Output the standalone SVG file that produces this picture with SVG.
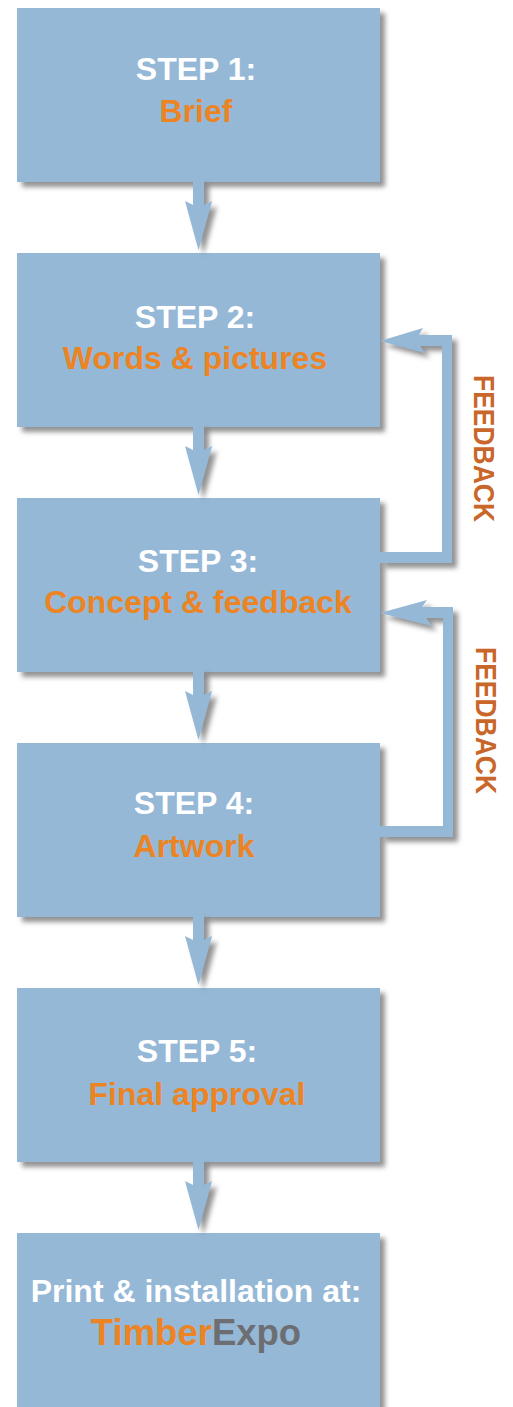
<svg xmlns="http://www.w3.org/2000/svg" xmlns:xlink="http://www.w3.org/1999/xlink" width="513" height="1407" viewBox="0 0 513 1407">
<style>
.box{fill:#95b8d7;filter:url(#sh)}
.conn{fill:#95b8d7;filter:url(#sh)}
.t{font-family:"Liberation Sans",Arial,Helvetica,sans-serif;font-weight:bold;text-anchor:middle;font-size:32px}
.w{fill:#ffffff}
.o{fill:#ec8424}
.g{fill:#6d6e71}
.fb{font-family:"Liberation Sans",Arial,Helvetica,sans-serif;font-weight:bold;text-anchor:middle;font-size:30px;fill:#c9672a}
</style>
<defs>
<filter id="sh" x="-20%" y="-20%" width="150%" height="150%">
<feDropShadow dx="5" dy="5" stdDeviation="2.5" flood-color="#6e6e6e" flood-opacity="0.75"/>
</filter>
<path id="down" d="M-6,-3 V23 L-14,19 L-0.5,68 L13,19 L5,23 V-3 Z"/>
</defs>
<rect width="513" height="1407" fill="#ffffff"/>
<g id="node1"><rect class="box" x="17" y="8" width="363" height="174"/>
<text class="t w" x="196" y="80">STEP 1:</text><text class="t o" x="196" y="122">Brief</text></g>
<g id="node2"><rect class="box" x="17" y="253" width="363" height="174"/>
<text class="t w" x="195" y="328">STEP 2:</text><text class="t o" x="195" y="369">Words &amp; pictures</text></g>
<g id="node3"><rect class="box" x="17" y="498" width="363" height="174"/>
<text class="t w" x="198" y="572">STEP 3:</text><text class="t o" x="198" y="613">Concept &amp; feedback</text></g>
<g id="node4"><rect class="box" x="17" y="743" width="363" height="174"/>
<text class="t w" x="194" y="814">STEP 4:</text><text class="t o" x="194" y="857">Artwork</text></g>
<g id="node5"><rect class="box" x="17" y="988" width="363" height="174"/>
<text class="t w" x="197" y="1062">STEP 5:</text><text class="t o" x="197" y="1105">Final approval</text></g>
<g id="node6"><rect class="box" x="17" y="1233" width="363" height="180"/>
<text class="t w" x="196" y="1302">Print &amp; installation at:</text>
<text class="t" x="196" y="1345" style="font-size:36.5px"><tspan class="o">Timber</tspan><tspan class="g">Expo</tspan></text></g>
<g id="connectors">
<use class="conn" xlink:href="#down" x="199" y="182"/>
<use class="conn" xlink:href="#down" x="199" y="427"/>
<use class="conn" xlink:href="#down" x="199" y="672"/>
<use class="conn" xlink:href="#down" x="199" y="917"/>
<use class="conn" xlink:href="#down" x="199" y="1162"/>
<polygon class="conn" points="380,552 442,552 442,346 420,346 425,353 380,341 423,328 419,335 452,335 452,563 380,563"/>
<polygon class="conn" points="380,826 443,826 443,618 426,618 432,626 380,613 427,600 422,607 453,607 453,837 380,837"/>
</g>
<g id="labels">
<text class="fb" transform="translate(474,448.5) rotate(90)" textLength="147" lengthAdjust="spacingAndGlyphs">FEEDBACK</text>
<text class="fb" transform="translate(476,720.5) rotate(90)" textLength="147" lengthAdjust="spacingAndGlyphs">FEEDBACK</text>
</g>
</svg>
